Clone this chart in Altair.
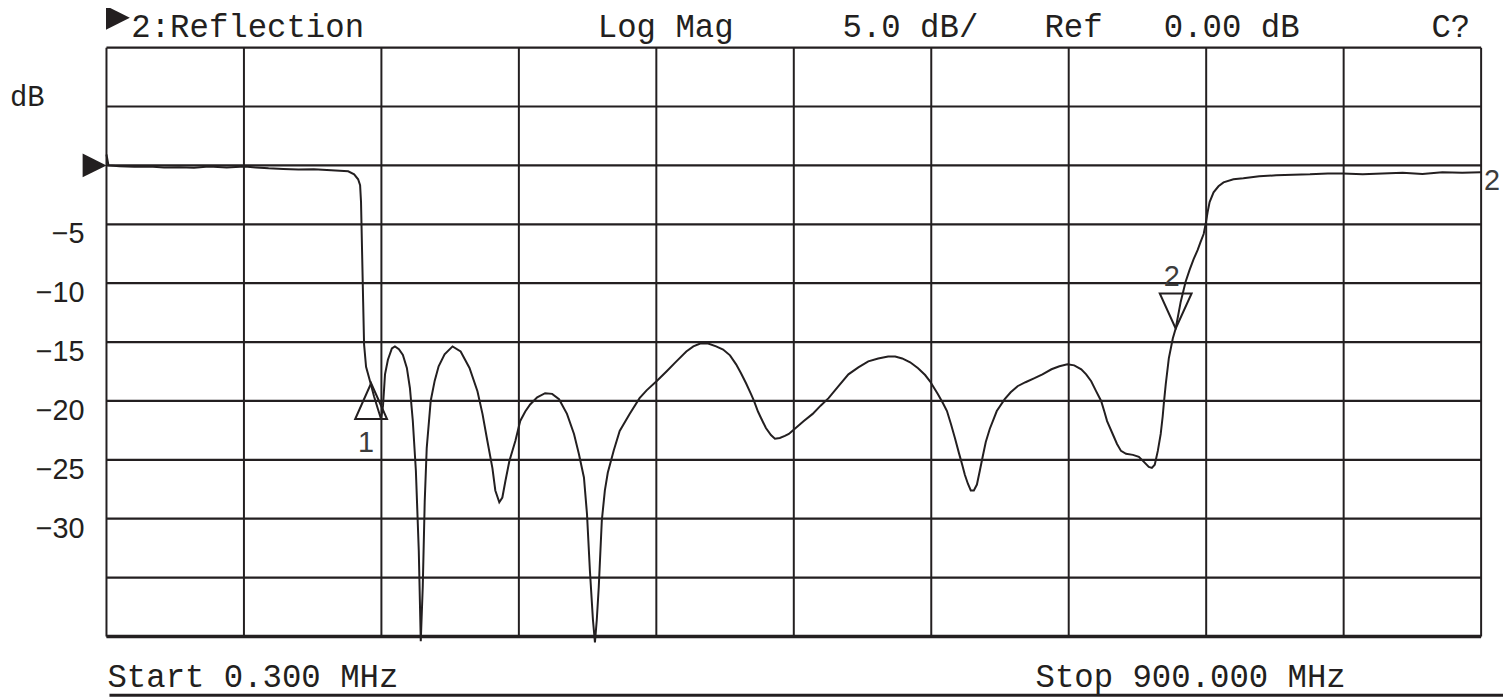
import altair as alt
import pandas as pd

# ---- trace data (MHz, dB) ----
freq_mhz = [
    0.3, 1.6, 8.8, 18.5, 28.3, 38.0, 47.8, 57.6, 67.4, 79.0, 90.8, 98.0, 106.4, 116.0,
    125.9, 136.0, 147.4, 153.0, 158.5, 162.4, 165.0, 166.3, 166.9, 167.6, 168.3, 168.9,
    170.2, 172.8, 175.4, 178.0, 180.0, 181.3, 182.6, 184.5, 187.1, 189.1, 191.7, 194.3,
    196.9, 198.9, 200.8, 202.8, 204.7, 206.0, 207.3, 208.6, 209.9, 212.5, 215.1, 217.7,
    221.6, 226.8, 232.1, 237.9, 243.1, 246.4, 249.6, 252.9, 254.8, 257.4, 259.4, 261.4,
    264.0, 267.9, 271.1, 274.4, 277.6, 282.2, 287.4, 292.0, 296.5, 301.7, 306.3, 309.5,
    312.8, 314.8, 316.7, 318.7, 320.0, 321.2, 322.5, 324.5, 326.5, 328.4, 332.3, 336.2,
    342.7, 349.2, 353.8, 360.3, 366.8, 373.3, 379.8, 384.4, 388.9, 394.1, 399.3, 403.9,
    408.4, 412.4, 415.6, 418.9, 422.1, 424.1, 426.7, 428.7, 431.9, 435.2, 437.8, 441.0,
    444.3, 446.9, 451.4, 456.7, 462.5, 467.7, 472.9, 479.4, 485.9, 492.4, 498.9, 505.4,
    511.9, 516.5, 521.1, 526.3, 531.5, 536.1, 539.3, 544.5, 547.8, 550.4, 553.0, 555.6,
    558.2, 560.2, 562.1, 564.1, 566.0, 568.0, 570.0, 571.9, 573.9, 575.8, 578.4, 583.0,
    588.2, 592.1, 596.6, 601.8, 607.7, 612.9, 618.8, 624.0, 629.2, 633.7, 638.3, 641.5,
    644.8, 648.0, 651.3, 653.3, 655.2, 658.5, 661.7, 664.3, 667.6, 672.1, 676.0, 679.3,
    682.5, 684.5, 686.4, 688.4, 690.3, 691.6, 692.3, 693.6, 695.6, 698.2, 700.1, 703.4,
    706.6, 709.2, 711.9, 714.5, 716.4, 718.4, 719.7, 721.0, 722.3, 724.9, 728.1, 731.4,
    737.9, 744.4, 754.8, 765.9, 776.9, 788.0, 799.7, 809.5, 822.5, 835.5, 848.6, 861.6,
    874.6, 887.6, 900.0,
]
s11_db = [
    0.93, 0.0, -0.08, -0.12, -0.10, -0.17, -0.15, -0.20, -0.10, -0.17, -0.10, -0.18, -0.25, -0.30,
    -0.35, -0.33, -0.42, -0.45, -0.50, -0.76, -1.18, -1.69, -3.1, -7.35, -11.6, -15.2,
    -17.1, -18.33, -19.6, -20.7, -21.54, -20.4, -17.74, -16.5, -15.54, -15.37, -15.6, -16.1,
    -17.2, -18.9, -21.7, -25.9, -32.7, -40.4, -35.8, -28.5, -24.0, -20.0, -18.3, -17.06,
    -16.05, -15.37, -15.8, -17.2, -19.17, -21.1, -23.4, -25.7, -27.6, -28.6, -28.2, -26.8,
    -25.1, -23.4, -21.7, -20.9, -20.3, -19.7, -19.34, -19.4, -19.85, -21.1, -22.8, -24.5,
    -26.5, -29.6, -34.4, -38.6, -40.5, -38.6, -35.8, -30.15, -27.6, -26.1, -24.2, -22.55,
    -21.1, -19.76, -19.1, -18.33, -17.5, -16.64, -15.8, -15.37, -15.12, -15.12, -15.37, -15.63,
    -16.13, -16.89, -17.65, -18.5, -19.4, -20.0, -20.9, -21.45, -22.3, -22.9, -23.2, -23.14,
    -22.97, -22.8, -22.3, -21.7, -21.1, -20.4, -19.76, -18.75, -17.74, -17.15, -16.64, -16.39,
    -16.22, -16.22, -16.39, -16.72, -17.23, -17.8, -18.33, -19.43, -20.2, -20.86, -21.96, -23.14,
    -24.41, -25.34, -26.27, -27.03, -27.6, -27.6, -27.1, -25.93, -24.66, -23.48, -22.38, -20.86,
    -19.85, -19.26, -18.75, -18.41, -18.07, -17.74, -17.31, -17.06, -16.89, -16.98, -17.31, -17.74,
    -18.33, -19.17, -20.0, -20.86, -21.71, -22.7, -23.65, -24.24, -24.49, -24.58, -24.75, -25.17,
    -25.6, -25.68, -25.42, -24.24, -22.8, -21.3, -20.27, -18.58, -16.39, -14.7, -13.85, -11.57,
    -9.88, -8.87, -7.94, -7.18, -6.5, -5.83, -4.98, -3.97, -3.12, -2.28, -1.77, -1.44,
    -1.18, -1.10, -0.93, -0.84, -0.80, -0.76, -0.68, -0.68, -0.76, -0.68, -0.63, -0.72,
    -0.59, -0.63, -0.59,
]

# grid divisions (10 x 10) and y labels
x_grid = [0.3, 90.27, 180.24, 270.21, 360.18, 450.15, 540.12, 630.09, 720.06, 810.03, 900.0]
y_grid = [-40, -35, -30, -25, -20, -15, -10, -5, 0, 5, 10]
y_label_vals = [-5, -10, -15, -20, -25, -30]
y_label_text = ["\u22125", "\u221210", "\u221215", "\u221220", "\u221225", "\u221230"]

# markers
m1_freq, m1_db = [173.5], [-18.5]
m2_freq, m2_db = [700.1], [-13.85]
ref_freq, ref_db = [0.3], [0.0]
end_freq, end_db = [900.0], [-0.59]

header_items = ["2:Reflection", "Log Mag", "5.0 dB/", "Ref", "0.00 dB", "C?"]
start_text = "Start 0.300 MHz"
stop_text = "Stop 900.000 MHz"

INK = "#231f20"
MONO = "Liberation Mono"
SANS = "Liberation Sans"

xs = alt.Scale(domain=[0.3, 900], nice=False, zero=False)
ys = alt.Scale(domain=[-40, 10], nice=False, zero=False)


def px(v):
    return alt.X(v, scale=xs, axis=None)


def py(v):
    return alt.Y(v, scale=ys, axis=None)


trace_df = pd.DataFrame({"f": freq_mhz, "db": s11_db, "i": list(range(len(freq_mhz)))})

vgrid = alt.Chart(pd.DataFrame({"g": x_grid})).mark_rule(color=INK, strokeWidth=2).encode(
    x=px("g:Q"))
hgrid = alt.Chart(pd.DataFrame({"g": y_grid})).mark_rule(color=INK, strokeWidth=2.2).encode(
    y=py("g:Q"))

trace = alt.Chart(trace_df).mark_line(color=INK, strokeWidth=2, clip=False).encode(
    x=px("f:Q"), y=py("db:Q"), order="i:Q")

ylab_df = pd.DataFrame({"v": y_label_vals, "t": y_label_text})
ylabels = alt.Chart(ylab_df).mark_text(font=SANS, fontSize=29, align="right", baseline="alphabetic",
                                       dy=19, color=INK).encode(
    y=py("v:Q"), x=alt.value(-22), text="t:N")

bottom_border = alt.Chart(pd.DataFrame({"v": [-40]})).mark_rule(color=INK, strokeWidth=3.5).encode(
    y=py("v:Q"))

one = pd.DataFrame({"a": [0]})
bottom_line = alt.Chart(one).mark_rule(color=INK, strokeWidth=3).encode(
    x=alt.value(3), x2=alt.value(1404), y=alt.value(651))

ref_df = pd.DataFrame({"f": ref_freq, "db": ref_db})
ref_arrow = alt.Chart(ref_df).mark_point(shape="M -2 -1 L 0 0 L -2 1 Z", size=576, filled=True,
                                         color=INK, opacity=1, strokeWidth=0).encode(
    x=px("f:Q"), y=py("db:Q"))

m1_df = pd.DataFrame({"f": m1_freq, "db": m1_db, "t": ["1"]})
m1_tri = alt.Chart(m1_df).mark_point(shape="M 0 0 L 1 2.25 L -1 2.25 Z", size=1024, filled=False,
                                     color=INK, opacity=1, strokeWidth=2).encode(
    x=px("f:Q"), y=py("db:Q"))
m1_lab = alt.Chart(m1_df).mark_text(font=SANS, fontSize=29, color="#3c3c3c", align="center",
                                    baseline="alphabetic", dx=-5, dy=69).encode(
    x=px("f:Q"), y=py("db:Q"), text="t:N")

m2_df = pd.DataFrame({"f": m2_freq, "db": m2_db, "t": ["2"]})
m2_tri = alt.Chart(m2_df).mark_point(shape="M 0 0 L 1 -2.2 L -1 -2.2 Z", size=1024, filled=False,
                                     color=INK, opacity=1, strokeWidth=2).encode(
    x=px("f:Q"), y=py("db:Q"))
m2_lab = alt.Chart(m2_df).mark_text(font=SANS, fontSize=29, color="#3c3c3c", align="center",
                                    baseline="alphabetic", dx=-4, dy=-43).encode(
    x=px("f:Q"), y=py("db:Q"), text="t:N")

end_df = pd.DataFrame({"f": end_freq, "db": end_db, "t": ["2"]})
end_lab = alt.Chart(end_df).mark_text(font=SANS, fontSize=29, color="#3c3c3c", align="left",
                                      baseline="alphabetic", dx=3, dy=18).encode(
    x=px("f:Q"), y=py("db:Q"), text="t:N")

head_tri = alt.Chart(one).mark_point(shape="M -1 -1 L 1 0 L -1 1 Z", size=576, filled=True,
                                     color=INK, opacity=1, strokeWidth=0).encode(
    x=alt.value(11.5), y=alt.value(-30))

header_x = [25, 494, 740, 943, 1063, 1332]
texts = []
for s, hx in zip(header_items, header_x):
    texts.append(alt.Chart(one).mark_text(text=s, font=MONO, fontSize=32.5, color=INK, align="left",
                                          baseline="alphabetic").encode(
        x=alt.value(hx), y=alt.value(-11)))

db_lab = alt.Chart(one).mark_text(text="dB", font=MONO, fontSize=29, color=INK, align="left",
                                  baseline="alphabetic").encode(x=alt.value(-97), y=alt.value(59))
start_lab = alt.Chart(one).mark_text(text=start_text, font=MONO, fontSize=32.5, color=INK,
                                     align="left", baseline="alphabetic").encode(
    x=alt.value(1), y=alt.value(643))
stop_lab = alt.Chart(one).mark_text(text=stop_text, font=MONO, fontSize=32.5, color=INK,
                                    align="left", baseline="alphabetic").encode(
    x=alt.value(934), y=alt.value(643))

chart = alt.layer(
    vgrid, hgrid, bottom_border, trace, bottom_line, ylabels, ref_arrow, m1_tri, m1_lab,
    m2_tri, m2_lab, end_lab, head_tri, db_lab, start_lab, stop_lab, *texts
).properties(
    width=1382, height=592,
    padding={"left": 99, "top": 38, "right": 22, "bottom": 60},
    autosize=alt.AutoSizeParams(type="none"),
    background="white",
).configure_view(stroke=None)

chart.save("out.html", embed_options={"renderer": "svg", "actions": False})
